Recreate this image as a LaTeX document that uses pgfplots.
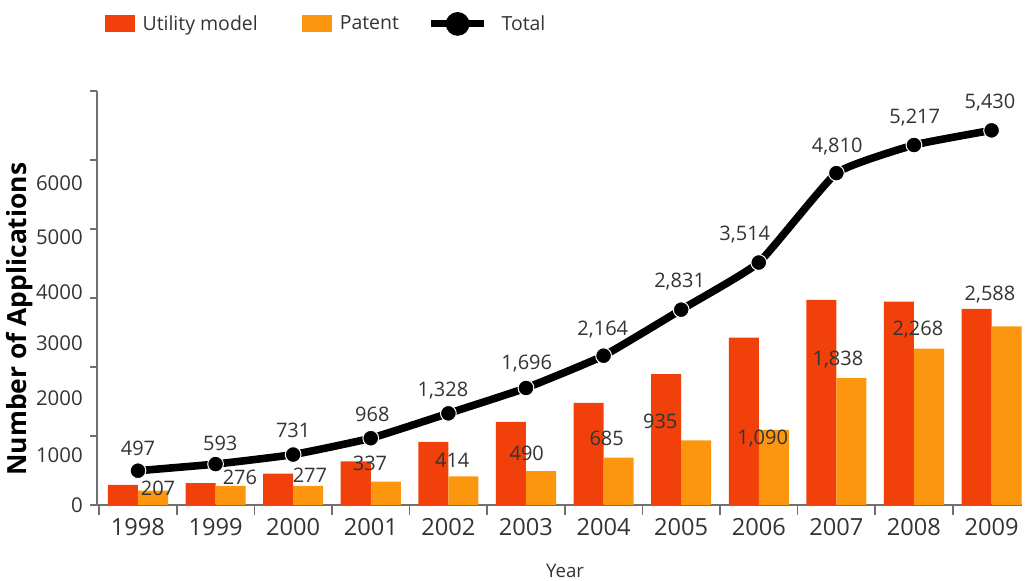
\documentclass[border=0pt]{standalone}
\usepackage{pgfplots}
\pgfplotsset{compat=1.18}
\usepackage{fontspec}
\setmainfont{Open Sans}
\definecolor{utilc}{HTML}{F2400A}
\definecolor{patc}{HTML}{FD960F}
\definecolor{axc}{HTML}{707070}
\definecolor{txt}{HTML}{333333}
\begin{document}
\begin{tikzpicture}
\begin{axis}[
  scale only axis,
  width=693.75pt, height=310.5pt,
  xmin=-0.528, xmax=11.392,
  ymin=0, ymax=6000,
  clip=false,
  axis x line=bottom, axis y line=left,
  axis line style={-, draw=axc, line width=1.1pt},
  tick style={draw=axc, line width=1.1pt},
  major tick length=0pt,
  xtick={0,...,11},
  xticklabels={1998,1999,2000,2001,2002,2003,2004,2005,2006,2007,2008,2009},
  xticklabel style={font=\fontsize{17.7pt}{20pt}\selectfont, text=txt, anchor=center, yshift=-16.5pt},
  ytick={0,725,1551,2348,3087,3884,4667},
  yticklabels={0,1000,2000,3000,4000,5000,6000},
  yticklabel style={font=\fontsize{15.3pt}{18pt}\selectfont, text=txt, anchor=east, inner sep=0pt, xshift=-10.5pt},
  extra x ticks={-0.5,0.5,...,10.5},
  extra x tick labels={},
  extra x tick style={major tick length=7.5pt, tick align=outside},
  extra y ticks={0,1000,2000,3000,4000,5000,6000},
  extra y tick labels={},
  extra y tick style={major tick length=5.25pt, tick align=outside},
  xlabel={Year},
  xlabel style={at={(axis description cs:0.506,-0.1594)}, anchor=center, font=\fontsize{14pt}{16pt}\selectfont, text=txt},
  ylabel={Number of Applications},
  ylabel style={at={(axis description cs:-0.0832,0.449)}, anchor=center, font=\fontsize{19.8pt}{22pt}\selectfont\bfseries, text=black},
  legend style={at={(axis description cs:0.00865,1.162)}, anchor=west, draw=none, fill=none,
    font=\fontsize{14.6pt}{16pt}\selectfont, text=txt, inner sep=0pt,
    /tikz/every even column/.append style={column sep=19.5pt}},
  legend columns=3,
  legend cell align=left,
]
\addplot[ybar, bar width=0.387, bar shift=-0.1935, fill=utilc, draw=none,
  legend image code/.code={\fill[utilc] (0pt,-6.4pt) rectangle (22.5pt,6.4pt); \path (26pt,0pt);}]
  coordinates {(0,290) (1,317) (2,454) (3,631) (4,914) (5,1206) (6,1479) (7,1896) (8,2424) (9,2972) (10,2949) (11,2842)};
\addlegendentry{Utility model\hspace*{12pt}}
\addplot[ybar, bar width=0.387, bar shift=0.1935, fill=patc, draw=none,
  legend image code/.code={\fill[patc] (0pt,-6.4pt) rectangle (22.5pt,6.4pt); \path (26pt,0pt);}]
  coordinates {(0,207) (1,276) (2,277) (3,337) (4,414) (5,490) (6,685) (7,935) (8,1090) (9,1838) (10,2268) (11,2588)};
\addlegendentry{Patent}
\addplot[black, line width=5.7pt, smooth, tension=0.25, mark=*, mark size=5.9pt,
  mark options={fill=black, draw=white, line width=0.75pt, solid},
  legend image code/.code={\draw[black, line width=5.25pt] (0pt,0pt) -- (39.75pt,0pt); \fill[black] (19.875pt,0pt) circle (6pt); \path (48pt,0pt);}]
  coordinates {(0,497) (1,593) (2,731) (3,968) (4,1328) (5,1696) (6,2164) (7,2831) (8,3514) (9,4810) (10,5217) (11,5430)};
\addlegendentry{Total}
% patent value labels
\addplot[draw=none, mark=none, forget plot, nodes near coords, point meta=explicit symbolic,
  nodes near coords align=center,
  every node near coord/.append style={anchor=center, font=\fontsize{15pt}{17pt}\selectfont, text=txt}]
  table[x=x, y=y, meta=lab] {
x y lab
0.258 246 207
1.314 406 276
2.216 435 277
2.99 609 337
4.05 652 414
5.01 754 490
6.04 971 685
6.73 1217 935
8.05 957 1,090
9.02 2101 1,838
10.05 2536 2,268
10.98 3043 2,588
};
% total value labels
\addplot[draw=none, mark=none, forget plot, nodes near coords, point meta=explicit symbolic,
  nodes near coords align=center,
  every node near coord/.append style={anchor=center, font=\fontsize{15pt}{17pt}\selectfont, text=txt}]
  table[x=x, y=y, meta=lab] {
x y lab
0 826 497
1.06 899 593
2.0 1087 731
3.02 1319 968
3.93 1652 1,328
5.01 2043 1,696
5.99 2536 2,164
6.98 3232 2,831
7.82 3913 3,514
9.01 5188 4,810
10.01 5609 5,217
10.98 5826 5,430
};
\end{axis}
\pgfresetboundingbox
\useasboundingbox (-72.75pt,-57pt) rectangle (696pt,378.75pt);
\end{tikzpicture}
\end{document}
